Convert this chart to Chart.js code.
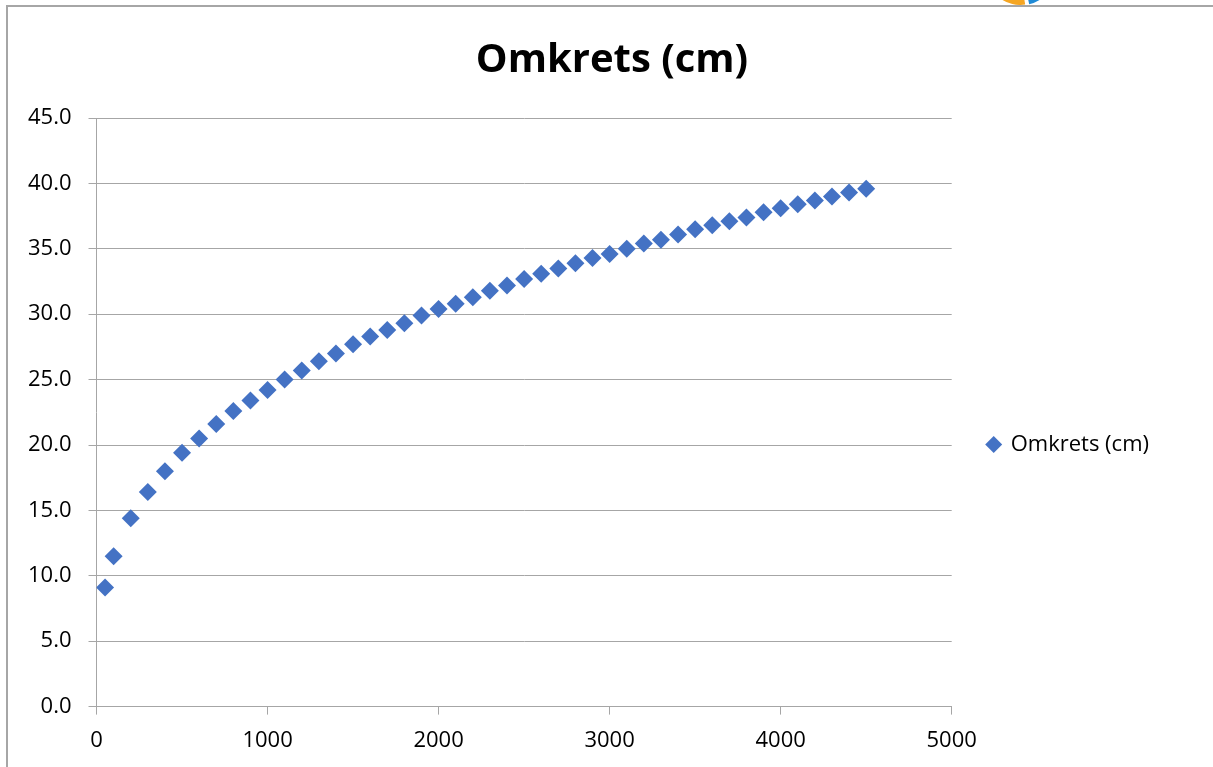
<!DOCTYPE html>
<html>
<head>
<meta charset="utf-8">
<script src="https://cdn.jsdelivr.net/npm/chart.js@4.4.1/dist/chart.umd.min.js"></script>
<style>
  html, body { margin: 0; padding: 0; background: #fff; }
  #wrap { width: 1213px; height: 767px; }
</style>
</head>
<body>
<div id="wrap"><canvas id="chart" width="1213" height="767"></canvas></div>
<script>
// x values (area) and measured circumference
const areaX = [50, 100, 200, 300, 400, 500, 600, 700, 800, 900,
  1000, 1100, 1200, 1300, 1400, 1500, 1600, 1700, 1800, 1900,
  2000, 2100, 2200, 2300, 2400, 2500, 2600, 2700, 2800, 2900,
  3000, 3100, 3200, 3300, 3400, 3500, 3600, 3700, 3800, 3900,
  4000, 4100, 4200, 4300, 4400, 4500];
const omkrets = [9.1, 11.5, 14.4, 16.4, 18.0, 19.4, 20.5, 21.6, 22.6, 23.4,
  24.2, 25.0, 25.7, 26.4, 27.0, 27.7, 28.3, 28.8, 29.3, 29.9,
  30.4, 30.8, 31.3, 31.8, 32.2, 32.7, 33.1, 33.5, 33.9, 34.3,
  34.6, 35.0, 35.4, 35.7, 36.1, 36.5, 36.8, 37.1, 37.4, 37.8,
  38.1, 38.4, 38.7, 39.0, 39.3, 39.6];
const seriesLabel = 'Omkrets (cm)';
const chartTitle = 'Omkrets (cm)';
const xTicks = [0, 1000, 2000, 3000, 4000, 5000];
const yTicks = [0, 5, 10, 15, 20, 25, 30, 35, 40, 45];

const FONT = '"Open Sans", "Liberation Sans", sans-serif';
const GRID = '#a6a6a6';
const BLUE = '#4472c4';

const points = [];
for (let i = 0; i < areaX.length; i++) points.push({ x: areaX[i], y: omkrets[i] });

// frame around the chart object plus the clipped logo at the top edge
const framePlugin = {
  id: 'frame',
  beforeInit: function (chart) {
    // extra empty room right of the legend, so the title stays centred on the whole canvas
    const legend = chart.legend;
    if (legend && !legend._wide) {
      const fit = legend.fit;
      legend.fit = function () { fit.call(this); this.width += 54; };
      legend._wide = true;
    }
  },
  beforeDraw: function (chart) {
    const ctx = chart.ctx;
    ctx.save();
    ctx.fillStyle = '#fff';
    ctx.fillRect(0, 0, chart.width, chart.height);
    ctx.strokeStyle = '#a6a6a6';
    ctx.lineWidth = 2;
    ctx.beginPath();
    ctx.moveTo(7, chart.height);
    ctx.lineTo(7, 6);
    ctx.lineTo(chart.width, 6);
    ctx.stroke();
    // bit of a logo peeking in above the frame
    ctx.beginPath();
    ctx.rect(0, 0, chart.width, 5);
    ctx.clip();
    ctx.fillStyle = '#f5a623';
    ctx.beginPath();
    ctx.moveTo(1020, -28);
    ctx.arc(1020, -28, 33, Math.PI * 0.45, Math.PI * 0.95);
    ctx.closePath();
    ctx.fill();
    ctx.fillStyle = '#1f8ad6';
    ctx.beginPath();
    ctx.moveTo(1022, -28);
    ctx.arc(1022, -28, 33, Math.PI * 0.05, Math.PI * 0.43);
    ctx.closePath();
    ctx.fill();
    ctx.restore();
  }
};

new Chart(document.getElementById('chart').getContext('2d'), {
  type: 'scatter',
  data: {
    datasets: [{
      label: seriesLabel,
      data: points,
      backgroundColor: BLUE,
      borderColor: BLUE,
      borderWidth: 0,
      pointStyle: 'rectRot',
      pointRadius: 9,
      pointHoverRadius: 9,
    }]
  },
  options: {
    responsive: false,
    animation: false,
    layout: { padding: { left: 11, right: 0, top: 0, bottom: 0 } },
    plugins: {
      title: {
        display: true,
        text: chartTitle,
        color: '#000',
        font: { family: FONT, size: 40, weight: 'bold' },
        padding: { top: 37, bottom: 33 },
      },
      legend: {
        position: 'right',
        // empty legend title only pushes the entry down to where it sits in the original
        title: { display: true, text: '', font: { size: 10 }, padding: { top: 55, bottom: 55 } },
        labels: {
          usePointStyle: true,
          pointStyle: 'rectRot',
          boxWidth: 12,
          boxHeight: 12,
          padding: 36,
          color: '#000',
          font: { family: FONT, size: 22 },
        },
      },
      tooltip: { enabled: false },
    },
    scales: {
      x: {
        type: 'linear',
        min: 0, max: 5000,
        afterBuildTicks: function (axis) { axis.ticks = xTicks.map(function (v) { return { value: v }; }); },
        grid: { drawOnChartArea: false, drawTicks: true, tickLength: 8, color: GRID },
        border: { display: true, color: GRID, width: 1 },
        ticks: {
          color: '#000', padding: 13, maxRotation: 0,
          font: { family: FONT, size: 22 },
          callback: function (v) { return String(v); },
        },
      },
      y: {
        type: 'linear',
        min: 0, max: 45,
        afterBuildTicks: function (axis) { axis.ticks = yTicks.map(function (v) { return { value: v }; }); },
        grid: { drawTicks: true, tickLength: 8, color: GRID },
        border: { display: true, color: GRID, width: 1 },
        ticks: {
          color: '#000', padding: 17,
          font: { family: FONT, size: 22 },
          callback: function (v) { return v.toFixed(1); },
        },
      },
    },
  },
  plugins: [framePlugin],
});
</script>
</body>
</html>
